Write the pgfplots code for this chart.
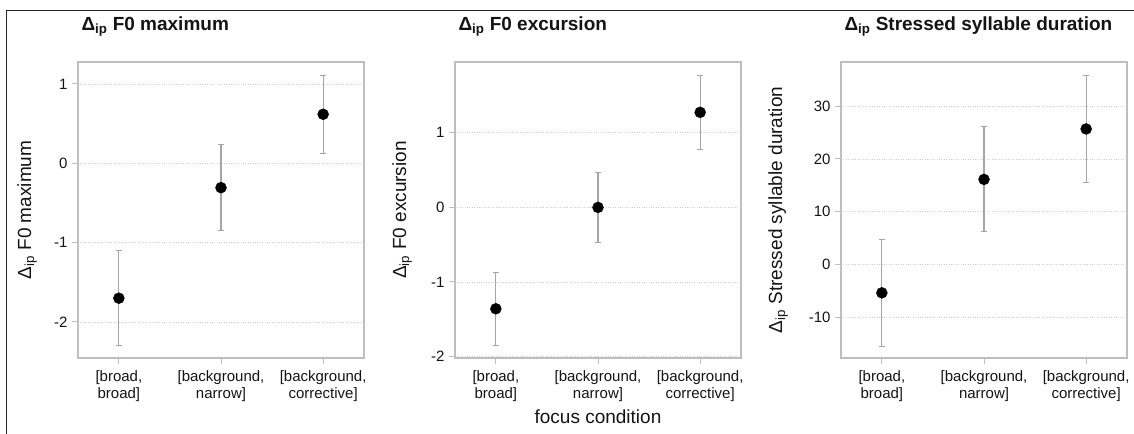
\documentclass[border=0pt]{standalone}
\usepackage{pgfplots}
\pgfplotsset{compat=1.18}
\usepackage{fontspec}
\setmainfont{Liberation Sans}
\definecolor{boxgray}{RGB}{190,190,190}
\definecolor{bargray}{RGB}{165,165,165}
\definecolor{gridgray}{RGB}{205,205,205}
\definecolor{txt}{RGB}{20,20,20}
\newcommand{\dip}{Δ\textsubscript{ip}}

\pgfplotsset{
  panel/.style={
    scale only axis, width=286bp, height=296bp,
    anchor=north west,
    xmin=0.6, xmax=3.4,
    xtick={1,2,3},
    xticklabels={{[broad,\\broad]},{[background,\\narrow]},{[background,\\corrective]}},
    xticklabel style={align=center, font=\fontsize{15bp}{17bp}\selectfont, text=txt, yshift=-3bp},
    yticklabel style={font=\fontsize{15bp}{17bp}\selectfont, text=txt, xshift=-1bp},
    xtick pos=bottom, ytick pos=left,
    tick align=outside, major tick length=6bp,
    tick style={boxgray, line width=1bp},
    axis line style={boxgray, line width=1.1bp},
    ymajorgrids, grid style={gridgray, dotted, line width=0.8bp},
    label style={font=\fontsize{19bp}{22bp}\selectfont, text=txt},
    title style={font=\fontsize{19bp}{22bp}\selectfont\bfseries, text=txt,
      anchor=base west, at={(axis description cs:0,1)}, yshift=26bp},
    clip=false,
  },
  pts/.style={only marks, mark=*, mark size=5.5bp, black,
    error bars/.cd, y dir=both, y explicit,
    error bar style={bargray, line width=1.2bp},
    error mark options={rotate=90, mark size=3bp, bargray, line width=1.1bp}},
}

\begin{document}
\begin{tikzpicture}
\useasboundingbox (0bp,0bp) rectangle (1134bp,-434bp);
\draw[line width=1bp, black!85] (6.5bp,-434bp) -- (6.5bp,-10.5bp) -- (1134bp,-10.5bp);

% panel 1
\begin{axis}[panel, at={(78bp,-62bp)},
  ymin=-2.454, ymax=1.277,
  ytick={-2,-1,0,1}, yticklabels={-2,-1,0,1},
  title={\dip\ F0 maximum},
  ylabel={\dip\ F0 maximum},
  ylabel style={at={(axis description cs:-0.178,0.5)}, anchor=center},
]
\addplot[pts] coordinates {
  (1,-1.70) +- (0,0.60)
  (2,-0.307) +- (0,0.54)
  (3,0.618) +- (0,0.49)
};
\end{axis}

% panel 2
\begin{axis}[panel, at={(455bp,-62bp)},
  ymin=-2.02, ymax=1.95,
  ytick={-2,-1,0,1}, yticklabels={-2,-1,0,1},
  title={\dip\ F0 excursion},
  ylabel={\dip\ F0 excursion},
  ylabel style={at={(axis description cs:-0.185,0.5)}, anchor=center},
  xlabel={focus condition},
  xlabel style={yshift=-1bp},
]
\addplot[pts] coordinates {
  (1,-1.36) +- (0,0.49)
  (2,0.0) +- (0,0.47)
  (3,1.275) +- (0,0.50)
};
\end{axis}

% panel 3
\begin{axis}[panel, at={(841bp,-62bp)},
  ymin=-17.75, ymax=38.4,
  ytick={-10,0,10,20,30}, yticklabels={-10,0,10,20,30},
  title={\dip\ Stressed syllable duration},
  ylabel={\dip\ Stressed syllable duration},
  ylabel style={at={(axis description cs:-0.22,0.5)}, anchor=center},
]
\addplot[pts] coordinates {
  (1,-5.39) +- (0,10.1)
  (2,16.13) +- (0,9.95)
  (3,25.7) +- (0,10.15)
};
\end{axis}
\end{tikzpicture}
\end{document}
